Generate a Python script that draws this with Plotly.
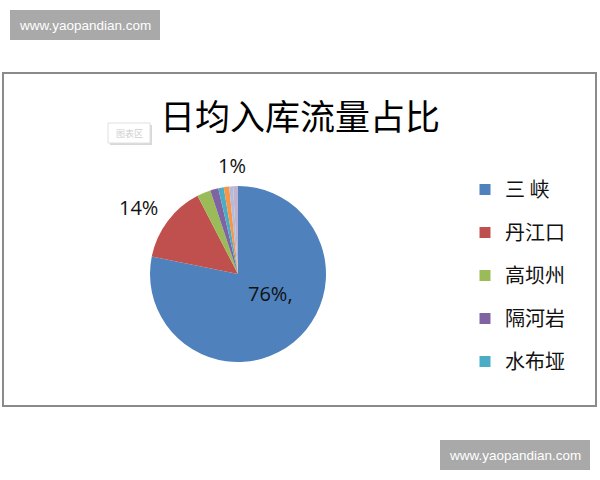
import plotly.graph_objects as go

W, H = 600, 480

labels = ["三 峡", "丹江口", "高坝州", "隔河岩", "水布垭", "五强溪", "龙滩", "彭水"]
values = [78.2, 14.2, 2.5, 1.5, 1.0, 1.0, 0.7, 0.9]
colors = ["#4F81BD", "#C0504D", "#9BBB59", "#8064A2", "#4BACC6", "#F79646", "#AFBCDA", "#C3B2CE"]
legend_count = 5
pct_texts = ["76%,", "14%", "1%"]
pct_pos = [(270, 293), (138, 207), (232, 165)]
title_text = "日均入库流量占比"
watermark = "www.yaopandian.com"


def px(x):
    return x / W


def py(y):
    return 1 - y / H


fig = go.Figure()

fig.add_trace(go.Pie(
    labels=labels,
    values=values,
    sort=False,
    direction="clockwise",
    rotation=0,
    marker=dict(colors=colors, line=dict(width=0)),
    textinfo="none",
    hoverinfo="label+percent",
    showlegend=False,
    domain=dict(x=[px(150), px(326)], y=[py(362), py(186)]),
))

for i in range(legend_count):
    fig.add_trace(go.Scatter(
        x=[None], y=[None], mode="markers", name=labels[i],
        marker=dict(symbol="square", size=11, color=colors[i]),
        legendgroup="g%d" % i, showlegend=True,
    ))

shapes = [
    dict(type="rect", xref="paper", yref="paper", x0=px(3), x1=px(596), y0=py(406), y1=py(73),
         line=dict(color="#8a8a8a", width=2), fillcolor="rgba(0,0,0,0)", layer="below"),
    dict(type="rect", xref="paper", yref="paper", x0=px(10), x1=px(160), y0=py(40), y1=py(10),
         line=dict(width=0), fillcolor="#A9A9A9"),
    dict(type="rect", xref="paper", yref="paper", x0=px(440), x1=px(590), y0=py(470), y1=py(440),
         line=dict(width=0), fillcolor="#A9A9A9"),
    dict(type="rect", xref="paper", yref="paper", x0=px(110), x1=px(152), y0=py(145), y1=py(125),
         line=dict(width=0), fillcolor="#d8d8d8"),
    dict(type="rect", xref="paper", yref="paper", x0=px(108), x1=px(150), y0=py(143), y1=py(123),
         line=dict(color="#e0e0e0", width=1), fillcolor="#ffffff"),
]

annotations = [
    dict(text=title_text, x=px(300), y=py(114), xref="paper", yref="paper", showarrow=False,
         font=dict(size=35, color="#000000", family="Noto Sans CJK SC"), xanchor="center", yanchor="middle"),
    dict(text=watermark, x=px(85), y=py(25), xref="paper", yref="paper", showarrow=False,
         font=dict(size=13.5, color="#ffffff", family="Liberation Sans"), xanchor="center", yanchor="middle"),
    dict(text=watermark, x=px(515), y=py(455), xref="paper", yref="paper", showarrow=False,
         font=dict(size=13.5, color="#ffffff", family="Liberation Sans"), xanchor="center", yanchor="middle"),
    dict(text="图表区", x=px(129), y=py(133), xref="paper", yref="paper", showarrow=False,
         font=dict(size=9, color="#cfcfcf", family="Noto Sans CJK SC"), xanchor="center", yanchor="middle"),
]
for t, (x, y) in zip(pct_texts, pct_pos):
    annotations.append(dict(text=t, x=px(x), y=py(y), xref="paper", yref="paper", showarrow=False,
                            font=dict(size=20, color="#111111", family="Open Sans"),
                            xanchor="center", yanchor="middle"))

fig.update_layout(
    width=W, height=H,
    margin=dict(l=0, r=0, t=0, b=0),
    paper_bgcolor="#ffffff", plot_bgcolor="#ffffff",
    xaxis=dict(visible=False), yaxis=dict(visible=False),
    shapes=shapes, annotations=annotations,
    legend=dict(x=px(465), y=py(170), xanchor="left", yanchor="top",
                font=dict(size=20, color="#111111", family="Noto Sans CJK SC"),
                tracegroupgap=14, itemwidth=30, bgcolor="rgba(0,0,0,0)"),
)

fig.write_html("out.html", config={"displayModeBar": False},
               post_script="document.body.style.margin='0';document.body.style.overflow='hidden';")
